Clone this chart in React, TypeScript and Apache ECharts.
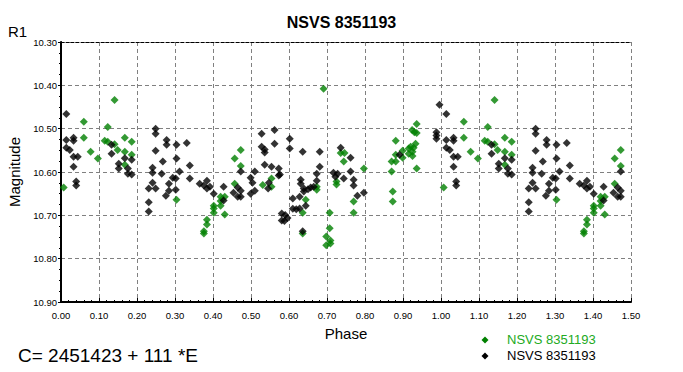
import React, { useEffect, useRef } from "react";
import * as echarts from "echarts";

// Observations, phase 0..1 (points with phase < ~0.49 are repeated at phase + 1, as in the original plot)
const greenPhase = [
  0.007, 0.060, 0.060, 0.078, 0.097, 0.123, 0.115, 0.123, 0.141, 0.141, 0.149, 0.168, 0.168, 0.168, 0.186, 0.186,
  0.304, 0.376, 0.376, 0.384, 0.384, 0.402, 0.402, 0.402, 0.420, 0.420, 0.420, 0.431, 0.431, 0.457, 0.457, 0.473, 0.473,
  0.531, 0.554, 0.554, 0.636, 0.644, 0.636, 0.673, 0.673, 0.691, 0.707, 0.707, 0.698, 0.709, 0.698, 0.709,
  0.725, 0.725, 0.736, 0.746, 0.744, 0.770, 0.770, 0.797, 0.870, 0.873, 0.873, 0.870, 0.881, 0.881, 0.881,
  0.899, 0.899, 0.915, 0.915, 0.920, 0.925, 0.928, 0.925, 0.933, 0.924, 0.930, 0.936, 0.936, 0.936,
];
const greenMag = [
  10.636, 10.484, 10.521, 10.553, 10.569, 10.496, 10.528, 10.530, 10.434, 10.536, 10.549, 10.521, 10.553, 10.583, 10.530, 10.560,
  10.664, 10.737, 10.742, 10.721, 10.710, 10.678, 10.684, 10.694, 10.657, 10.667, 10.678, 10.698, 10.657, 10.569, 10.627, 10.549, 10.586,
  10.630, 10.615, 10.634, 10.694, 10.664, 10.742, 10.634, 10.641, 10.408, 10.694, 10.730, 10.749, 10.758, 10.769, 10.765,
  10.622, 10.629, 10.556, 10.556, 10.576, 10.668, 10.694, 10.592, 10.599, 10.645, 10.668, 10.576, 10.576, 10.528, 10.560,
  10.551, 10.567, 10.558, 10.546, 10.542, 10.553, 10.544, 10.563, 10.535, 10.503, 10.508, 10.510, 10.489, 10.592,
];

const blackPhase = [
  0.014, 0.014, 0.014, 0.023, 0.033, 0.033, 0.033, 0.044, 0.033, 0.040, 0.040,
  0.133, 0.133, 0.152, 0.152, 0.168, 0.176, 0.176, 0.186, 0.186,
  0.249, 0.249, 0.249, 0.231, 0.231, 0.231, 0.241, 0.241, 0.241, 0.249, 0.268, 0.265, 0.278, 0.278, 0.276,
  0.284, 0.284, 0.294, 0.304, 0.304, 0.302, 0.302, 0.312, 0.331, 0.339, 0.339,
  0.365, 0.376, 0.384, 0.384, 0.392, 0.402, 0.428, 0.428, 0.454, 0.465, 0.465, 0.473, 0.473, 0.473,
  0.499, 0.499, 0.510, 0.510, 0.504, 0.528, 0.528, 0.536, 0.536, 0.536, 0.547, 0.545, 0.554, 0.562, 0.562,
  0.573, 0.573, 0.602, 0.602, 0.576, 0.581, 0.581, 0.590, 0.596, 0.588, 0.610, 0.610, 0.619, 0.628, 0.628,
  0.631, 0.631, 0.636, 0.639, 0.639, 0.644, 0.636, 0.650, 0.657, 0.665, 0.673, 0.673, 0.681, 0.681,
  0.717, 0.722, 0.728, 0.736, 0.744, 0.762, 0.762, 0.770, 0.770, 0.780, 0.797, 0.891,
  0.988, 0.988, 0.988, 0.996,
];
const blackMag = [
  10.466, 10.526, 10.544, 10.549, 10.521, 10.528, 10.565, 10.565, 10.588, 10.622, 10.631,
  10.537, 10.558, 10.581, 10.592, 10.568, 10.592, 10.604, 10.606, 10.572,
  10.500, 10.512, 10.551, 10.638, 10.670, 10.691, 10.590, 10.602, 10.625, 10.638, 10.576, 10.604, 10.526, 10.537, 10.655,
  10.627, 10.643, 10.613, 10.537, 10.569, 10.615, 10.641, 10.599, 10.533, 10.585, 10.615,
  10.627, 10.631, 10.620, 10.638, 10.634, 10.650, 10.634, 10.666, 10.648, 10.636, 10.657, 10.657, 10.599, 10.643,
  10.613, 10.650, 10.599, 10.643, 10.625, 10.512, 10.542, 10.548, 10.555, 10.583, 10.625, 10.638, 10.588, 10.503, 10.535,
  10.592, 10.608, 10.523, 10.546, 10.606, 10.696, 10.712, 10.699, 10.706, 10.713, 10.661, 10.685, 10.686, 10.684, 10.657,
  10.618, 10.627, 10.553, 10.638, 10.645, 10.678, 10.737, 10.640, 10.636, 10.634, 10.604, 10.620, 10.553, 10.588,
  10.602, 10.611, 10.604, 10.544, 10.615, 10.567, 10.599, 10.618, 10.631, 10.655, 10.648, 10.560,
  10.508, 10.516, 10.523, 10.445,
];

const titleText = "NSVS 8351193";
const seriesName = "NSVS 8351193";
const yUnitText = "R1";
const formulaText = "C= 2451423 + 111 *E";
const xMin = 0, xMax = 1.5, xStep = 0.1;
const yMin = 10.3, yMax = 10.9, yStep = 0.1;

const FONT = "'Liberation Sans', Arial, sans-serif";
const GREEN = "#008000";

function buildPoints(ph: number[], mg: number[]) {
  const pts: number[][] = [];
  ph.forEach((p, i) => {
    pts.push([p, mg[i]]);
    if (p + 1 < 1.49) pts.push([p + 1, mg[i]]);
  });
  return pts;
}

export default function App() {
  const ref = useRef<HTMLDivElement>(null);
  useEffect(() => {
    document.body.style.margin = "0";
    if (!ref.current) return;
    const chart = echarts.init(ref.current, undefined, { renderer: "svg" });
    const frameAxisLine = { show: true, lineStyle: { color: "#000", width: 1, type: [3, 2] as any } };
    chart.setOption({
      animation: false,
      backgroundColor: "#ffffff",
      title: {
        text: titleText,
        left: "center",
        top: 9,
        textStyle: { fontFamily: FONT, fontSize: 16, fontWeight: "bold", color: "#000" },
      },
      grid: { left: 61, right: 52, top: 42, bottom: 70, containLabel: false, outerBoundsMode: "none" },
      xAxis: [
        {
          type: "value",
          min: xMin,
          max: xMax,
          interval: xStep,
          name: "Phase",
          nameLocation: "middle",
          nameGap: 24,
          nameTextStyle: { fontFamily: FONT, fontSize: 15, color: "#000" },
          axisLine: { show: true, onZero: false, lineStyle: { color: "#000", width: 2 } },
          axisTick: { show: true, inside: true, length: 4, lineStyle: { color: "#000" } },
          minorTick: { show: true, splitNumber: 5, length: 2, lineStyle: { color: "#000" } },
          axisLabel: {
            fontFamily: FONT,
            fontSize: 9.5,
            color: "#000",
            margin: 8,
            formatter: (v: number) => v.toFixed(2),
          },
          splitLine: { show: true, lineStyle: { color: "#808080", width: 1, type: [4, 3] } },
        },
        {
          type: "value",
          position: "top",
          min: xMin,
          max: xMax,
          axisLine: frameAxisLine,
          axisTick: { show: false },
          axisLabel: { show: false },
          splitLine: { show: false },
        },
      ],
      yAxis: [
        {
          type: "value",
          inverse: true,
          min: yMin,
          max: yMax,
          interval: yStep,
          name: "Magnitude",
          nameLocation: "middle",
          nameGap: 38,
          nameTextStyle: { fontFamily: FONT, fontSize: 15, color: "#000" },
          axisLine: { show: true, onZero: false, lineStyle: { color: "#000", width: 2 } },
          axisTick: { show: true, inside: false, length: 3, lineStyle: { color: "#000" } },
          minorTick: { show: true, splitNumber: 4, length: 2, lineStyle: { color: "#000" } },
          axisLabel: {
            fontFamily: FONT,
            fontSize: 9.5,
            color: "#000",
            margin: 4,
            formatter: (v: number) => v.toFixed(2),
          },
          splitLine: { show: true, lineStyle: { color: "#808080", width: 1, type: [4, 3] } },
        },
        {
          type: "value",
          position: "right",
          inverse: true,
          min: yMin,
          max: yMax,
          axisLine: frameAxisLine,
          axisTick: { show: false },
          axisLabel: { show: false },
          splitLine: { show: false },
        },
      ],
      series: [
        {
          name: seriesName,
          type: "scatter",
          symbol: "diamond",
          symbolSize: 8,
          itemStyle: { color: GREEN },
          data: buildPoints(greenPhase, greenMag),
        },
        {
          name: seriesName + " (2)",
          type: "scatter",
          symbol: "diamond",
          symbolSize: 8,
          itemStyle: { color: "#000000" },
          data: buildPoints(blackPhase, blackMag),
        },
      ],
      graphic: [
        {
          type: "text",
          left: 8,
          top: 24,
          style: { text: yUnitText, fontFamily: FONT, fontSize: 15, fill: "#000" },
        },
        {
          type: "text",
          left: 18,
          top: 346,
          style: { text: formulaText, fontFamily: FONT, fontSize: 19, fill: "#000" },
        },
        {
          type: "polygon",
          shape: { points: [[485, 336.5], [488.5, 340], [485, 343.5], [481.5, 340]] },
          style: { fill: GREEN },
        },
        {
          type: "text",
          left: 507,
          top: 333,
          style: { text: seriesName, fontFamily: FONT, fontSize: 13, fill: "#22aa22" },
        },
        {
          type: "polygon",
          shape: { points: [[485, 352.5], [488.5, 356], [485, 359.5], [481.5, 356]] },
          style: { fill: "#000" },
        },
        {
          type: "text",
          left: 507,
          top: 349,
          style: { text: seriesName, fontFamily: FONT, fontSize: 13, fill: "#000" },
        },
      ],
    });
    return () => chart.dispose();
  }, []);
  return <div ref={ref} style={{ width: 683, height: 372 }} />;
}
